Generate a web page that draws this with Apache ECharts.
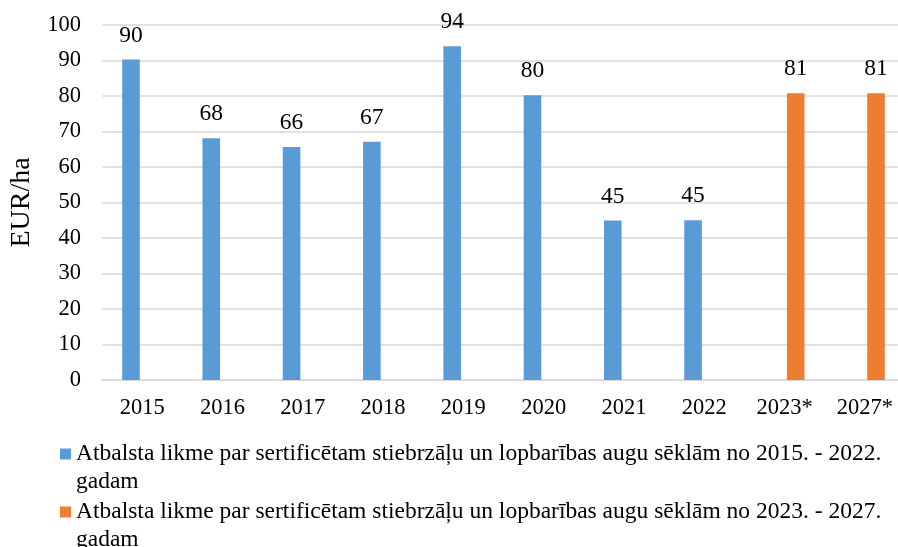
<!DOCTYPE html>
<html lang="lv">
<head>
    <meta charset="UTF-8">
    <title>Atbalsta likme</title>
    <style>
        html, body { margin: 0; padding: 0; background: #fff; }
        #chart { width: 898px; height: 547px; }
    </style>
</head>
<body>
<div id="chart"></div>
<script src="https://cdn.jsdelivr.net/npm/echarts@6/dist/echarts.min.js"></script>
<script>
    // dati
    var years = ['2015', '2016', '2017', '2018', '2019', '2020', '2021', '2022', '2023*', '2027*'];
    var rate2015to2022 = [90.3, 68.1, 65.6, 67.1, 94.0, 80.2, 44.9, 45.0, null, null];
    var rate2023to2027 = [null, null, null, null, null, null, null, null, 80.8, 80.8];
    var seriesNames = [
        'Atbalsta likme par sertificētam stiebrzāļu un lopbarības augu sēklām no 2015. - 2022. gadam',
        'Atbalsta likme par sertificētam stiebrzāļu un lopbarības augu sēklām no 2023. - 2027. gadam'
    ];
    var yTicks = {min: 0, max: 100, step: 10};

    var serif = "'Liberation Serif', 'Times New Roman', serif";
    var gridColor = '#d9d9d9';

    var myChart = echarts.init(document.getElementById('chart'));

    function barLabel() {
        return {
            show: true,
            position: 'top',
            distance: 12,
            color: '#000',
            fontFamily: serif,
            fontSize: 23.5,
            formatter: function (p) { return Math.round(p.value); }
        };
    }

    var option = {
        animation: false,
        grid: {left: 102, top: 25, width: 803, height: 355, outerBoundsMode: 'none', containLabel: false},
        legend: {
            orient: 'vertical',
            left: 60,
            top: 412,
            width: 1000,
            height: 300,
            padding: 0,
            itemGap: -26,
            icon: 'rect',
            itemWidth: 11,
            itemHeight: 11,
            // tukša pirmā rinda, lai marķieris būtu pret pirmo teksta rindu; "gadam" jaunā rindā
            formatter: function (name) { return '\n' + name.replace(/ (gadam)$/, '\n$1'); },
            textStyle: {
                color: '#000',
                fontFamily: serif,
                fontSize: 23.5,
                lineHeight: 28
            },
            data: seriesNames
        },
        xAxis: {
            type: 'category',
            data: years,
            axisTick: {show: false},
            axisLine: {lineStyle: {color: gridColor, width: 1.5}},
            axisLabel: {color: '#000', fontFamily: serif, fontSize: 22.5, margin: 17}
        },
        yAxis: {
            type: 'value',
            min: yTicks.min,
            max: yTicks.max,
            interval: yTicks.step,
            name: 'EUR/ha',
            nameLocation: 'middle',
            nameGap: 66,
            nameTextStyle: {color: '#000', fontFamily: serif, fontSize: 28},
            axisLabel: {color: '#000', fontFamily: serif, fontSize: 22.5, margin: 21},
            splitLine: {lineStyle: {color: gridColor, width: 1.5}}
        },
        series: [
            {
                name: seriesNames[0],
                type: 'bar',
                data: rate2015to2022,
                barWidth: 17.6,
                barGap: '27%',
                itemStyle: {color: '#5b9bd5'},
                label: barLabel()
            },
            {
                name: seriesNames[1],
                type: 'bar',
                data: rate2023to2027,
                barWidth: 17.6,
                barGap: '27%',
                itemStyle: {color: '#ed7d31'},
                label: barLabel()
            }
        ]
    };

    if (option && typeof option === 'object') {
        myChart.setOption(option);
    }
</script>
</body>
</html>
